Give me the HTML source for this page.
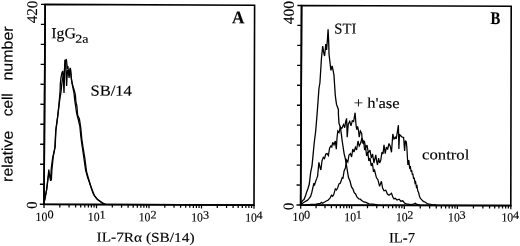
<!DOCTYPE html>
<html><head><meta charset="utf-8"><title>Figure</title>
<style>
html,body{margin:0;padding:0;background:#fff;}
body{width:520px;height:246px;overflow:hidden;}
svg{display:block;}
text{fill:#000;stroke:#000;stroke-width:0.14px;}
</style></head>
<body>
<svg width="520" height="246" viewBox="0 0 520 246">
<defs><filter id="soft" x="0" y="0" width="520" height="246" filterUnits="userSpaceOnUse"><feGaussianBlur stdDeviation="0.32"/></filter></defs>
<rect x="0" y="0" width="520" height="246" fill="#fff"/>
<g filter="url(#soft)">
<polygon points="45.2,4.35 254.6,5.25 254,205 44,204.25" fill="none" stroke="#000" stroke-width="1.6"/>
<line x1="43.3" y1="204.3" x2="254.7" y2="205.05" stroke="#000" stroke-width="1.75" stroke-linecap="butt"/>
<line x1="45.15" y1="4.35" x2="43.95" y2="204.25" stroke="#000" stroke-width="1.7" stroke-linecap="butt"/>
<line x1="41" y1="4.33" x2="45.2" y2="4.35" stroke="#000" stroke-width="1.35" stroke-linecap="butt"/>
<line x1="40.88" y1="24.32" x2="45.08" y2="24.34" stroke="#000" stroke-width="1.35" stroke-linecap="butt"/>
<line x1="40.76" y1="44.31" x2="44.96" y2="44.33" stroke="#000" stroke-width="1.35" stroke-linecap="butt"/>
<line x1="40.64" y1="64.3" x2="44.84" y2="64.32" stroke="#000" stroke-width="1.35" stroke-linecap="butt"/>
<line x1="40.52" y1="84.29" x2="44.72" y2="84.31" stroke="#000" stroke-width="1.35" stroke-linecap="butt"/>
<line x1="40.4" y1="104.28" x2="44.6" y2="104.3" stroke="#000" stroke-width="1.35" stroke-linecap="butt"/>
<line x1="40.28" y1="124.27" x2="44.48" y2="124.29" stroke="#000" stroke-width="1.35" stroke-linecap="butt"/>
<line x1="40.16" y1="144.26" x2="44.36" y2="144.28" stroke="#000" stroke-width="1.35" stroke-linecap="butt"/>
<line x1="40.04" y1="164.25" x2="44.24" y2="164.27" stroke="#000" stroke-width="1.35" stroke-linecap="butt"/>
<line x1="39.92" y1="184.24" x2="44.12" y2="184.26" stroke="#000" stroke-width="1.35" stroke-linecap="butt"/>
<line x1="39.8" y1="204.23" x2="44" y2="204.25" stroke="#000" stroke-width="1.35" stroke-linecap="butt"/>
<line x1="44" y1="204.25" x2="43.99" y2="207.95" stroke="#000" stroke-width="1.25" stroke-linecap="butt"/>
<line x1="59.8" y1="204.31" x2="59.79" y2="207.41" stroke="#000" stroke-width="1.25" stroke-linecap="butt"/>
<line x1="69.05" y1="204.34" x2="69.04" y2="207.44" stroke="#000" stroke-width="1.25" stroke-linecap="butt"/>
<line x1="75.61" y1="204.36" x2="75.6" y2="207.46" stroke="#000" stroke-width="1.25" stroke-linecap="butt"/>
<line x1="80.7" y1="204.38" x2="80.69" y2="207.48" stroke="#000" stroke-width="1.25" stroke-linecap="butt"/>
<line x1="84.85" y1="204.4" x2="84.84" y2="207.5" stroke="#000" stroke-width="1.25" stroke-linecap="butt"/>
<line x1="88.37" y1="204.41" x2="88.36" y2="207.51" stroke="#000" stroke-width="1.25" stroke-linecap="butt"/>
<line x1="91.41" y1="204.42" x2="91.4" y2="207.52" stroke="#000" stroke-width="1.25" stroke-linecap="butt"/>
<line x1="94.1" y1="204.43" x2="94.09" y2="207.53" stroke="#000" stroke-width="1.25" stroke-linecap="butt"/>
<line x1="96.5" y1="204.44" x2="96.49" y2="208.14" stroke="#000" stroke-width="1.25" stroke-linecap="butt"/>
<line x1="112.3" y1="204.49" x2="112.29" y2="207.59" stroke="#000" stroke-width="1.25" stroke-linecap="butt"/>
<line x1="121.55" y1="204.53" x2="121.54" y2="207.63" stroke="#000" stroke-width="1.25" stroke-linecap="butt"/>
<line x1="128.11" y1="204.55" x2="128.1" y2="207.65" stroke="#000" stroke-width="1.25" stroke-linecap="butt"/>
<line x1="133.2" y1="204.57" x2="133.19" y2="207.67" stroke="#000" stroke-width="1.25" stroke-linecap="butt"/>
<line x1="137.35" y1="204.58" x2="137.34" y2="207.68" stroke="#000" stroke-width="1.25" stroke-linecap="butt"/>
<line x1="140.87" y1="204.6" x2="140.86" y2="207.7" stroke="#000" stroke-width="1.25" stroke-linecap="butt"/>
<line x1="143.91" y1="204.61" x2="143.9" y2="207.71" stroke="#000" stroke-width="1.25" stroke-linecap="butt"/>
<line x1="146.6" y1="204.62" x2="146.59" y2="207.72" stroke="#000" stroke-width="1.25" stroke-linecap="butt"/>
<line x1="149" y1="204.62" x2="148.99" y2="208.32" stroke="#000" stroke-width="1.25" stroke-linecap="butt"/>
<line x1="164.8" y1="204.68" x2="164.79" y2="207.78" stroke="#000" stroke-width="1.25" stroke-linecap="butt"/>
<line x1="174.05" y1="204.71" x2="174.04" y2="207.81" stroke="#000" stroke-width="1.25" stroke-linecap="butt"/>
<line x1="180.61" y1="204.74" x2="180.6" y2="207.84" stroke="#000" stroke-width="1.25" stroke-linecap="butt"/>
<line x1="185.7" y1="204.76" x2="185.69" y2="207.86" stroke="#000" stroke-width="1.25" stroke-linecap="butt"/>
<line x1="189.85" y1="204.77" x2="189.84" y2="207.87" stroke="#000" stroke-width="1.25" stroke-linecap="butt"/>
<line x1="193.37" y1="204.78" x2="193.36" y2="207.88" stroke="#000" stroke-width="1.25" stroke-linecap="butt"/>
<line x1="196.41" y1="204.79" x2="196.4" y2="207.89" stroke="#000" stroke-width="1.25" stroke-linecap="butt"/>
<line x1="199.1" y1="204.8" x2="199.09" y2="207.9" stroke="#000" stroke-width="1.25" stroke-linecap="butt"/>
<line x1="201.5" y1="204.81" x2="201.49" y2="208.51" stroke="#000" stroke-width="1.25" stroke-linecap="butt"/>
<line x1="217.3" y1="204.87" x2="217.29" y2="207.97" stroke="#000" stroke-width="1.25" stroke-linecap="butt"/>
<line x1="226.55" y1="204.9" x2="226.54" y2="208" stroke="#000" stroke-width="1.25" stroke-linecap="butt"/>
<line x1="233.11" y1="204.93" x2="233.1" y2="208.03" stroke="#000" stroke-width="1.25" stroke-linecap="butt"/>
<line x1="238.2" y1="204.94" x2="238.19" y2="208.04" stroke="#000" stroke-width="1.25" stroke-linecap="butt"/>
<line x1="242.35" y1="204.96" x2="242.34" y2="208.06" stroke="#000" stroke-width="1.25" stroke-linecap="butt"/>
<line x1="245.87" y1="204.97" x2="245.86" y2="208.07" stroke="#000" stroke-width="1.25" stroke-linecap="butt"/>
<line x1="248.91" y1="204.98" x2="248.9" y2="208.08" stroke="#000" stroke-width="1.25" stroke-linecap="butt"/>
<line x1="251.6" y1="204.99" x2="251.59" y2="208.09" stroke="#000" stroke-width="1.25" stroke-linecap="butt"/>
<line x1="254" y1="205" x2="254" y2="208.7" stroke="#000" stroke-width="1.25" stroke-linecap="butt"/>
<polygon points="301.6,5.5 511.2,6.2 510.8,205.5 300.7,205" fill="none" stroke="#000" stroke-width="1.6"/>
<line x1="300" y1="205.05" x2="511.5" y2="205.55" stroke="#000" stroke-width="1.75" stroke-linecap="butt"/>
<line x1="301.55" y1="5.5" x2="300.65" y2="205" stroke="#000" stroke-width="1.7" stroke-linecap="butt"/>
<line x1="297.4" y1="5.48" x2="301.6" y2="5.5" stroke="#000" stroke-width="1.35" stroke-linecap="butt"/>
<line x1="297.31" y1="25.43" x2="301.51" y2="25.45" stroke="#000" stroke-width="1.35" stroke-linecap="butt"/>
<line x1="297.22" y1="45.38" x2="301.42" y2="45.4" stroke="#000" stroke-width="1.35" stroke-linecap="butt"/>
<line x1="297.13" y1="65.33" x2="301.33" y2="65.35" stroke="#000" stroke-width="1.35" stroke-linecap="butt"/>
<line x1="297.04" y1="85.28" x2="301.24" y2="85.3" stroke="#000" stroke-width="1.35" stroke-linecap="butt"/>
<line x1="296.95" y1="105.23" x2="301.15" y2="105.25" stroke="#000" stroke-width="1.35" stroke-linecap="butt"/>
<line x1="296.86" y1="125.18" x2="301.06" y2="125.2" stroke="#000" stroke-width="1.35" stroke-linecap="butt"/>
<line x1="296.77" y1="145.13" x2="300.97" y2="145.15" stroke="#000" stroke-width="1.35" stroke-linecap="butt"/>
<line x1="296.68" y1="165.08" x2="300.88" y2="165.1" stroke="#000" stroke-width="1.35" stroke-linecap="butt"/>
<line x1="296.59" y1="185.03" x2="300.79" y2="185.05" stroke="#000" stroke-width="1.35" stroke-linecap="butt"/>
<line x1="296.5" y1="204.98" x2="300.7" y2="205" stroke="#000" stroke-width="1.35" stroke-linecap="butt"/>
<line x1="300.7" y1="205" x2="300.69" y2="208.7" stroke="#000" stroke-width="1.25" stroke-linecap="butt"/>
<line x1="316.05" y1="205.04" x2="316.04" y2="208.14" stroke="#000" stroke-width="1.25" stroke-linecap="butt"/>
<line x1="325.03" y1="205.06" x2="325.02" y2="208.16" stroke="#000" stroke-width="1.25" stroke-linecap="butt"/>
<line x1="331.4" y1="205.07" x2="331.39" y2="208.17" stroke="#000" stroke-width="1.25" stroke-linecap="butt"/>
<line x1="336.34" y1="205.08" x2="336.33" y2="208.18" stroke="#000" stroke-width="1.25" stroke-linecap="butt"/>
<line x1="340.38" y1="205.09" x2="340.37" y2="208.19" stroke="#000" stroke-width="1.25" stroke-linecap="butt"/>
<line x1="343.79" y1="205.1" x2="343.78" y2="208.2" stroke="#000" stroke-width="1.25" stroke-linecap="butt"/>
<line x1="346.75" y1="205.11" x2="346.74" y2="208.21" stroke="#000" stroke-width="1.25" stroke-linecap="butt"/>
<line x1="349.36" y1="205.12" x2="349.35" y2="208.22" stroke="#000" stroke-width="1.25" stroke-linecap="butt"/>
<line x1="351.69" y1="205.12" x2="351.68" y2="208.82" stroke="#000" stroke-width="1.25" stroke-linecap="butt"/>
<line x1="367.53" y1="205.16" x2="367.52" y2="208.26" stroke="#000" stroke-width="1.25" stroke-linecap="butt"/>
<line x1="376.79" y1="205.18" x2="376.78" y2="208.28" stroke="#000" stroke-width="1.25" stroke-linecap="butt"/>
<line x1="383.37" y1="205.2" x2="383.36" y2="208.3" stroke="#000" stroke-width="1.25" stroke-linecap="butt"/>
<line x1="388.46" y1="205.21" x2="388.45" y2="208.31" stroke="#000" stroke-width="1.25" stroke-linecap="butt"/>
<line x1="392.63" y1="205.22" x2="392.62" y2="208.32" stroke="#000" stroke-width="1.25" stroke-linecap="butt"/>
<line x1="396.15" y1="205.23" x2="396.14" y2="208.33" stroke="#000" stroke-width="1.25" stroke-linecap="butt"/>
<line x1="399.2" y1="205.23" x2="399.19" y2="208.33" stroke="#000" stroke-width="1.25" stroke-linecap="butt"/>
<line x1="401.89" y1="205.24" x2="401.88" y2="208.34" stroke="#000" stroke-width="1.25" stroke-linecap="butt"/>
<line x1="404.3" y1="205.25" x2="404.29" y2="208.95" stroke="#000" stroke-width="1.25" stroke-linecap="butt"/>
<line x1="420.28" y1="205.28" x2="420.27" y2="208.38" stroke="#000" stroke-width="1.25" stroke-linecap="butt"/>
<line x1="429.63" y1="205.31" x2="429.62" y2="208.41" stroke="#000" stroke-width="1.25" stroke-linecap="butt"/>
<line x1="436.27" y1="205.32" x2="436.26" y2="208.42" stroke="#000" stroke-width="1.25" stroke-linecap="butt"/>
<line x1="441.41" y1="205.33" x2="441.4" y2="208.43" stroke="#000" stroke-width="1.25" stroke-linecap="butt"/>
<line x1="445.61" y1="205.34" x2="445.6" y2="208.44" stroke="#000" stroke-width="1.25" stroke-linecap="butt"/>
<line x1="449.17" y1="205.35" x2="449.16" y2="208.45" stroke="#000" stroke-width="1.25" stroke-linecap="butt"/>
<line x1="452.25" y1="205.36" x2="452.24" y2="208.46" stroke="#000" stroke-width="1.25" stroke-linecap="butt"/>
<line x1="454.96" y1="205.37" x2="454.95" y2="208.47" stroke="#000" stroke-width="1.25" stroke-linecap="butt"/>
<line x1="457.39" y1="205.37" x2="457.38" y2="209.07" stroke="#000" stroke-width="1.25" stroke-linecap="butt"/>
<line x1="473.47" y1="205.41" x2="473.46" y2="208.51" stroke="#000" stroke-width="1.25" stroke-linecap="butt"/>
<line x1="482.87" y1="205.43" x2="482.86" y2="208.53" stroke="#000" stroke-width="1.25" stroke-linecap="butt"/>
<line x1="489.55" y1="205.45" x2="489.54" y2="208.55" stroke="#000" stroke-width="1.25" stroke-linecap="butt"/>
<line x1="494.72" y1="205.46" x2="494.71" y2="208.56" stroke="#000" stroke-width="1.25" stroke-linecap="butt"/>
<line x1="498.95" y1="205.47" x2="498.94" y2="208.57" stroke="#000" stroke-width="1.25" stroke-linecap="butt"/>
<line x1="502.53" y1="205.48" x2="502.52" y2="208.58" stroke="#000" stroke-width="1.25" stroke-linecap="butt"/>
<line x1="505.62" y1="205.49" x2="505.61" y2="208.59" stroke="#000" stroke-width="1.25" stroke-linecap="butt"/>
<line x1="508.36" y1="205.49" x2="508.35" y2="208.59" stroke="#000" stroke-width="1.25" stroke-linecap="butt"/>
<line x1="510.8" y1="205.5" x2="510.8" y2="209.2" stroke="#000" stroke-width="1.25" stroke-linecap="butt"/>
<polyline fill="none" stroke="#000" stroke-width="1.3" stroke-linejoin="miter" stroke-miterlimit="3" points="44.6,200 46.5,190 48,178 48.8,169.5 49.6,175 50.6,181 51.3,168 52.6,158 54.9,148 55.7,131 56.6,124 57.7,116 58.9,105 59.6,97 60.1,91 60.3,84 60.9,78 61.9,73 62.8,71 63.4,80 64,93 64.4,80 64.6,70 64.9,60.2 65.6,60 66,68 66.3,78 66.6,86 67,78 67.6,70 68.4,72 69.3,76 70.2,67.8 70.8,73 71.4,79 72.2,84 73.2,89 74,93 74.7,100 75.6,106 76.6,113 78.4,120 79.8,126 80.9,137 81.8,144 83.6,156 85.6,170 87.6,177.3 89.4,182.3 91.4,188.6 93.4,194.3 96.7,198.7 100.5,201.4 103,203.4 106,204.3"/>
<polyline fill="none" stroke="#000" stroke-width="1.3" stroke-linejoin="miter" stroke-miterlimit="3" points="44.6,201 46.8,189 48.3,176 49.4,174.8 51.3,180.4 51.9,170 53.2,157 55.2,146 55.9,130 56.9,123 57.9,115 59.2,104 60,98 61,92 61.7,85 62.5,79 63.4,75 64.2,72 64.8,66 65.4,61 66.4,60 66.9,64 67.4,69 67.9,66 68.5,72 69.1,78 69.8,70 70.5,68.5 71.1,76 71.8,82 73,86.5 74.3,90.5 75.4,95 75.9,102 76.9,106 77.6,115 79.4,119 80.8,128 81.8,139 83,147 84.8,158 86.6,172 88.6,179 90.4,185 92.4,190.5 94.6,196 97.8,199.8 101.4,202.4 104.4,204.1"/>
<polyline fill="none" stroke="#000" stroke-width="1.3" stroke-linejoin="miter" stroke-miterlimit="3" points="300.8,204.5 301.7,201.9 303,200.2 304,199.6 305.4,196 306.9,191.4 308,188.5 309.3,184 310,178 310.7,172 312,166 313.2,153.6 314.2,143 315.7,131 317.1,114 318.2,99 319,88 319.9,83 320.8,69 321.4,59 322.7,46 323.8,53 324.6,56 325.8,44 326.6,50 327.4,40 328.1,29.2 328.7,42 329,54 330.2,64 330.9,70.4 332.1,66 333,70 334,75.4 334.6,85 335.3,95.6 336.5,104.4 338.4,109.4 338.4,114 339,123.3 340.3,127 341.2,133 342.2,141 344.1,153.6 345.3,158.6 346.6,166 348.5,177.6 350,181 351.5,187 353,189 354.2,192.7 355.6,194 356.9,197 358.8,198.9 360.3,199.2 361.7,200.5 363.8,202 366,202.4 368.9,203.9 373,204.2 377.7,204.8"/>
<polyline fill="none" stroke="#000" stroke-width="1.25" stroke-linejoin="miter" stroke-miterlimit="3" points="301.2,204.4 302.2,203.6 304.8,201.8 307.3,200.4 309.2,198.4 310.6,196.4 311.8,192.5 312.8,188 313.5,185 313.9,183 314.4,185.5 315.6,181.5 316.8,178.4 317.6,176 318.9,162.4 320.2,168 320.9,170 322,161 323.3,157.4 324.5,158.5 325.8,154 327.1,153.6 328.4,155.5 329.6,148 330.9,146 331.8,147 332.7,142.3 334,144.8 335.3,141 336.3,149.2 337,138 337.8,131 339,132.5 340.3,127 341.8,128.5 343.5,124.6 344.7,127.7 345.6,122 346.6,118.3 347.2,137.2 348.3,124 349.7,121.4 351,125.8 352.3,120.8 353.6,121.5 355.1,112.7 356,124.6 356.7,129.6 357.6,126.5 358.6,131 359.2,137.2 360.4,131 361.7,133.4 362.3,143 363.6,141 364.6,150 365.7,148 366.6,156 367.8,152 368.8,161 370,158 371.2,166 372.4,163 373.4,171 374.5,170 376.4,177.6 378,180 379.6,186.4 381.4,181.3 382.6,188 384,190.8 385.8,190.2 387.4,194 389,195.2 391.5,193.3 392.8,197 394,198.9 395.3,198.3 397,200 399.1,199.2 400.8,201.2 402.7,200.8 404.5,203 406.3,203.9 411,204.6 413.5,204 415.3,203.3 417,204.4 420,205"/>
<polyline fill="none" stroke="#000" stroke-width="1.25" stroke-linejoin="miter" stroke-miterlimit="3" points="305,205 311.1,204.4 316,204.2 320.4,203.4 321.4,202.4 322.6,203.2 326.3,201 328,200.2 330,198.1 331.5,195.2 332.7,196.2 333.8,194.3 335.3,188.9 336.4,190 337.6,188 339,183.9 340.4,183 342.2,177.6 343,178 344.1,171 345.4,168 346.6,160 347.8,162 349,155 350.4,153.6 351.6,157 352.8,149 354,152 355.4,147.3 356.6,150 358,141 359.2,146 360.5,143.5 362,138 363.2,144 364.4,141 365.7,148 367,145 368.4,153 370,150 371.3,158 372.6,154 373.9,163 375.8,154.9 376.6,161 377.5,165 378.6,158 379.6,163 380.8,160 382,152 383,154 384,144.8 385.2,153.6 386.4,147 387.6,149.5 389,143.5 390.2,146 391.5,152.3 392.8,134 394,139 395.3,137.2 396.2,139 397.2,132.8 398.4,125.2 398.9,149 399.5,134.5 401,136 402.2,137.2 403.6,137.5 404.6,151 405.4,140.5 406.3,142 406.9,148 407.4,157.5 407.9,165 408.8,160 409.6,168 410.4,167 411.2,172 411.6,170 412.4,175 412.8,173.5 413.6,179 414.2,177.5 415,183 415.6,182 416.4,187 417,186 417.8,191 418.6,192.5 419.4,196 420.4,198.4 421.6,199.6 423.3,201.4 425.4,202.2 427.7,203.9 432,204.5 436.5,205"/>
<text x="47.3" y="220.95" font-family='"Liberation Serif", serif' font-size="12.6" font-weight="normal" text-anchor="end" transform="rotate(0.29 47.3 220.95)" textLength="11.7" lengthAdjust="spacingAndGlyphs" stroke-width="0.22">10</text>
<text x="47.4" y="218.25" font-family='"Liberation Serif", serif' font-size="11.5" font-weight="normal" text-anchor="start" transform="rotate(0.29 47.4 218.25)" textLength="6.1" lengthAdjust="spacingAndGlyphs" stroke-width="0.22">0</text>
<text x="99.5" y="221.14" font-family='"Liberation Serif", serif' font-size="12.6" font-weight="normal" text-anchor="end" transform="rotate(0.29 99.5 221.14)" textLength="11.7" lengthAdjust="spacingAndGlyphs" stroke-width="0.22">10</text>
<text x="99.6" y="218.44" font-family='"Liberation Serif", serif' font-size="11.5" font-weight="normal" text-anchor="start" transform="rotate(0.29 99.6 218.44)" textLength="6.1" lengthAdjust="spacingAndGlyphs" stroke-width="0.22">1</text>
<text x="150.4" y="221.32" font-family='"Liberation Serif", serif' font-size="12.6" font-weight="normal" text-anchor="end" transform="rotate(0.29 150.4 221.32)" textLength="11.7" lengthAdjust="spacingAndGlyphs" stroke-width="0.22">10</text>
<text x="150.4" y="218.62" font-family='"Liberation Serif", serif' font-size="11.5" font-weight="normal" text-anchor="start" transform="rotate(0.29 150.4 218.62)" textLength="6.1" lengthAdjust="spacingAndGlyphs" stroke-width="0.22">2</text>
<text x="202.9" y="221.51" font-family='"Liberation Serif", serif' font-size="12.6" font-weight="normal" text-anchor="end" transform="rotate(0.29 202.9 221.51)" textLength="11.7" lengthAdjust="spacingAndGlyphs" stroke-width="0.22">10</text>
<text x="202.9" y="218.81" font-family='"Liberation Serif", serif' font-size="11.5" font-weight="normal" text-anchor="start" transform="rotate(0.29 202.9 218.81)" textLength="6.1" lengthAdjust="spacingAndGlyphs" stroke-width="0.22">3</text>
<text x="256.9" y="221.7" font-family='"Liberation Serif", serif' font-size="12.6" font-weight="normal" text-anchor="end" transform="rotate(0.29 256.9 221.7)" textLength="11.7" lengthAdjust="spacingAndGlyphs" stroke-width="0.22">10</text>
<text x="256.5" y="219" font-family='"Liberation Serif", serif' font-size="11.5" font-weight="normal" text-anchor="start" transform="rotate(0.29 256.5 219)" textLength="6.1" lengthAdjust="spacingAndGlyphs" stroke-width="0.22">4</text>
<text x="304.3" y="221.1" font-family='"Liberation Serif", serif' font-size="12.6" font-weight="normal" text-anchor="end" transform="rotate(0.29 304.3 221.1)" textLength="11.7" lengthAdjust="spacingAndGlyphs" stroke-width="0.22">10</text>
<text x="303.9" y="218.4" font-family='"Liberation Serif", serif' font-size="11.5" font-weight="normal" text-anchor="start" transform="rotate(0.29 303.9 218.4)" textLength="6.1" lengthAdjust="spacingAndGlyphs" stroke-width="0.22">0</text>
<text x="356.03" y="221.22" font-family='"Liberation Serif", serif' font-size="12.6" font-weight="normal" text-anchor="end" transform="rotate(0.29 356.03 221.22)" textLength="11.7" lengthAdjust="spacingAndGlyphs" stroke-width="0.22">10</text>
<text x="355.83" y="218.53" font-family='"Liberation Serif", serif' font-size="11.5" font-weight="normal" text-anchor="start" transform="rotate(0.29 355.83 218.53)" textLength="6.1" lengthAdjust="spacingAndGlyphs" stroke-width="0.22">1</text>
<text x="407.7" y="221.35" font-family='"Liberation Serif", serif' font-size="12.6" font-weight="normal" text-anchor="end" transform="rotate(0.29 407.7 221.35)" textLength="11.7" lengthAdjust="spacingAndGlyphs" stroke-width="0.22">10</text>
<text x="407.2" y="218.65" font-family='"Liberation Serif", serif' font-size="11.5" font-weight="normal" text-anchor="start" transform="rotate(0.29 407.2 218.65)" textLength="6.1" lengthAdjust="spacingAndGlyphs" stroke-width="0.22">2</text>
<text x="459.77" y="221.47" font-family='"Liberation Serif", serif' font-size="12.6" font-weight="normal" text-anchor="end" transform="rotate(0.29 459.77 221.47)" textLength="11.7" lengthAdjust="spacingAndGlyphs" stroke-width="0.22">10</text>
<text x="459.47" y="218.78" font-family='"Liberation Serif", serif' font-size="11.5" font-weight="normal" text-anchor="start" transform="rotate(0.29 459.47 218.78)" textLength="6.1" lengthAdjust="spacingAndGlyphs" stroke-width="0.22">3</text>
<text x="513.1" y="221.6" font-family='"Liberation Serif", serif' font-size="12.6" font-weight="normal" text-anchor="end" transform="rotate(0.29 513.1 221.6)" textLength="11.7" lengthAdjust="spacingAndGlyphs" stroke-width="0.22">10</text>
<text x="512.9" y="218.9" font-family='"Liberation Serif", serif' font-size="11.5" font-weight="normal" text-anchor="start" transform="rotate(0.29 512.9 218.9)" textLength="6.1" lengthAdjust="spacingAndGlyphs" stroke-width="0.22">4</text>
<text x="51.3" y="38.2" font-family='"Liberation Serif", serif' font-size="15.6" font-weight="normal" text-anchor="start" transform="rotate(0.29 51.3 38.2)" textLength="24.6" lengthAdjust="spacingAndGlyphs">IgG</text>
<text x="75.2" y="42.7" font-family='"Liberation Serif", serif' font-size="12" font-weight="normal" text-anchor="start" transform="rotate(0.29 75.2 42.7)" textLength="13.2" lengthAdjust="spacingAndGlyphs" stroke-width="0.25">2a</text>
<text x="90.5" y="95.5" font-family='"Liberation Serif", serif' font-size="15" font-weight="normal" text-anchor="start" transform="rotate(0.29 90.5 95.5)" textLength="41.3" lengthAdjust="spacingAndGlyphs">SB/14</text>
<text x="231.9" y="23.3" font-family='"Liberation Serif", serif' font-size="17.8" font-weight="bold" text-anchor="start" transform="rotate(0.29 231.9 23.3)" textLength="12.4" lengthAdjust="spacingAndGlyphs" stroke-width="0.1">A</text>
<text x="490.6" y="24" font-family='"Liberation Serif", serif' font-size="17.8" font-weight="bold" text-anchor="start" transform="rotate(0.29 490.6 24)" textLength="9.8" lengthAdjust="spacingAndGlyphs" stroke-width="0.1">B</text>
<text x="334.3" y="33.5" font-family='"Liberation Serif", serif' font-size="15" font-weight="normal" text-anchor="start" transform="rotate(0.29 334.3 33.5)" textLength="22" lengthAdjust="spacingAndGlyphs">STI</text>
<text x="353.7" y="107.8" font-family='"Liberation Serif", serif' font-size="14.8" font-weight="normal" text-anchor="start" transform="rotate(0.29 353.7 107.8)" textLength="46" lengthAdjust="spacingAndGlyphs">+ h'ase</text>
<text x="422.1" y="159.3" font-family='"Liberation Serif", serif' font-size="14.5" font-weight="normal" text-anchor="start" transform="rotate(0.29 422.1 159.3)" textLength="47.2" lengthAdjust="spacingAndGlyphs">control</text>
<text x="96.6" y="241.5" font-family='"Liberation Serif", serif' font-size="13.5" font-weight="normal" text-anchor="start" transform="rotate(0.29 96.6 241.5)" textLength="98" lengthAdjust="spacingAndGlyphs">IL-7Rα (SB/14)</text>
<text x="389" y="242.4" font-family='"Liberation Serif", serif' font-size="14.5" font-weight="normal" text-anchor="start" transform="rotate(0.29 389 242.4)" textLength="26" lengthAdjust="spacingAndGlyphs">IL-7</text>
<text x="37.1" y="23.3" font-family='"Liberation Serif", serif' font-size="15" font-weight="normal" text-anchor="start" transform="rotate(-89.8 37.1 23.3)" textLength="22.7" lengthAdjust="spacingAndGlyphs">420</text>
<text x="293.8" y="24.2" font-family='"Liberation Serif", serif' font-size="15.2" font-weight="normal" text-anchor="start" transform="rotate(-89.8 293.8 24.2)" textLength="23.2" lengthAdjust="spacingAndGlyphs">400</text>
<text x="36.8" y="208.8" font-family='"Liberation Serif", serif' font-size="15" font-weight="normal" text-anchor="start" transform="rotate(-89.8 36.8 208.8)" textLength="7.2" lengthAdjust="spacingAndGlyphs">0</text>
<text x="293.5" y="210" font-family='"Liberation Serif", serif' font-size="15" font-weight="normal" text-anchor="start" transform="rotate(-89.8 293.5 210)" textLength="7.2" lengthAdjust="spacingAndGlyphs">0</text>
<text x="12.5" y="181.9" font-family='"Liberation Sans", sans-serif' font-size="15" font-weight="normal" text-anchor="start" transform="rotate(-89.8 12.5 181.9)" textLength="51.1" lengthAdjust="spacingAndGlyphs" stroke-width="0.08">relative</text>
<text x="12.5" y="116.2" font-family='"Liberation Sans", sans-serif' font-size="15" font-weight="normal" text-anchor="start" transform="rotate(-89.8 12.5 116.2)" textLength="22.9" lengthAdjust="spacingAndGlyphs" stroke-width="0.08">cell</text>
<text x="12.5" y="80.6" font-family='"Liberation Sans", sans-serif' font-size="15" font-weight="normal" text-anchor="start" transform="rotate(-89.8 12.5 80.6)" textLength="54.2" lengthAdjust="spacingAndGlyphs" stroke-width="0.08">number</text>
</g>
</svg>
</body></html>
